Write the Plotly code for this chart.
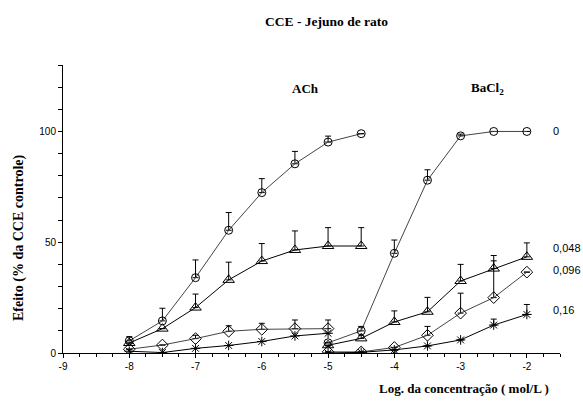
import plotly.graph_objects as go

# ---- data ----
x_ach = [-8, -7.5, -7, -6.5, -6, -5.5, -5, -4.5]
ach_0 = [5.5, 14.5, 34, 55.4, 72.4, 85.4, 95.2, 99]
ach_0_err = [1.9, 5.7, 8, 8, 6.3, 5.6, 2.7, 0]
ach_048 = [4.5, 11, 20.5, 33, 41.5, 46.5, 48.3, 48.3]
ach_048_err = [0, 0, 6.1, 8, 7.9, 8.6, 8.3, 8.3]
x_ach_short = [-8, -7.5, -7, -6.5, -6, -5.5, -5]
ach_096 = [1.7, 3.6, 6.5, 9.8, 10.7, 11, 11]
ach_096_err = [0, 0, 1.5, 2.5, 2.7, 3.9, 3.9]
ach_16 = [0.8, 0.2, 2.1, 3.4, 5.2, 7.7, 8.9]

x_ba = [-5, -4.5, -4, -3.5, -3, -2.5, -2]
ba_0 = [4.6, 10, 45, 78, 98, 100, 100]
ba_0_err = [0, 2, 6, 4.7, 0.8, 0, 0]
ba_048 = [3.5, 6.6, 14, 18.6, 32.5, 38.1, 43.4]
ba_048_err = [0, 1.4, 5, 6.5, 7.5, 5.9, 6.3]
ba_096 = [0.5, 0.5, 2.5, 8, 18, 25, 36.5]
ba_096_err = [0, 0, 0, 4, 9, 16.6, 0]
ba_16 = [0, 0.3, 1.4, 3.2, 5.9, 12.6, 17.4]
ba_16_err = [0, 0, 0, 0, 0, 2.7, 4.5]

dose_labels = ["0", "0,048", "0,096", "0,16"]
dose_label_y = [100, 47.3, 37.4, 19.4]

x_tick_vals = [-9, -8, -7, -6, -5, -4, -3, -2]
y_tick_vals = [0, 50, 100]

fig = go.Figure()

def add(x, y, sym, err=None, color="black", size=8):
    kw = {}
    if err is not None:
        kw["error_y"] = dict(type="data", symmetric=False, array=err,
                             arrayminus=[0] * len(err), width=3,
                             thickness=1, color="black")
    fig.add_trace(go.Scatter(
        x=x, y=y, mode="lines+markers",
        line=dict(color=color, width=1),
        marker=dict(symbol=sym, size=size, color="black",
                    line=dict(color="black", width=1)),
        showlegend=False, **kw))

add(x_ach, ach_0, "circle-open", ach_0_err, "#444")
add(x_ach, ach_048, "triangle-up-open", ach_048_err, size=10)
add(x_ach_short, ach_096, "diamond-open", ach_096_err, "#444", size=9)
add(x_ach_short, ach_16, "asterisk-open")
add(x_ba, ba_0, "circle-open", ba_0_err, "#444")
add(x_ba, ba_048, "triangle-up-open", ba_048_err, size=10)
add(x_ba, ba_096, "diamond-open", ba_096_err, "#444", size=9)
add(x_ba, ba_16, "asterisk-open", ba_16_err)

serif = "Liberation Serif, Times New Roman, serif"
sans = "Liberation Sans Narrow, Arial Narrow, Liberation Sans, Arial, sans-serif"

def pa(text, px, py, size=13, angle=0, family=serif):
    return dict(text=text, xref="paper", yref="paper",
                x=(px - 63) / 497, y=(353 - py) / 288, showarrow=False,
                xanchor="center", yanchor="middle", textangle=angle,
                font=dict(family=family, size=size, color="black"))

ann = []
ann.append(pa("<b>CCE - Jejuno de rato</b>", 326, 22, size=13.5))
ann.append(pa("<b>ACh</b>", 305, 88))
ann.append(pa("<b>BaCl<sub>2</sub></b>", 487, 88))
for lab, yy in zip(dose_labels, dose_label_y):
    ann.append(dict(text=lab, xref="x", yref="y", x=-1.63, y=yy, xanchor="left",
                    yanchor="middle",
                    showarrow=False, font=dict(family=sans, size=11, color="black")))
ann.append(pa("<b>Log. da concentração ( mol/L )</b>", 464, 388))
ann.append(pa("<b>Efeito (% da CCE controle)</b>", 19, 238, size=14, angle=-90))

fig.update_layout(
    width=583, height=405,
    margin=dict(l=63, r=23, t=65, b=52, autoexpand=False),
    paper_bgcolor="white", plot_bgcolor="white",
    annotations=ann,
    xaxis=dict(range=[-9, -1.5], tickvals=x_tick_vals,
               ticktext=[str(v) for v in x_tick_vals],
               showgrid=False, zeroline=False, showline=True,
               linecolor="black", linewidth=1, ticks="outside", ticklen=4,
               tickcolor="black",
               minor=dict(dtick=0.25, tick0=-9, ticks="outside", ticklen=3, tickcolor="black"),
               tickfont=dict(family=sans, size=10, color="black")),
    yaxis=dict(range=[0, 130], tickvals=y_tick_vals,
               showgrid=False, zeroline=False, showline=True,
               linecolor="black", linewidth=1, ticks="outside", ticklen=4,
               tickcolor="black",
               minor=dict(dtick=10, tick0=0, ticks="outside", ticklen=4, tickcolor="black"),
               tickfont=dict(family=sans, size=10, color="black")),
)

fig.write_html("out.html", config={"displayModeBar": False},
               post_script="document.body.style.margin='0';document.body.style.padding='0';")
